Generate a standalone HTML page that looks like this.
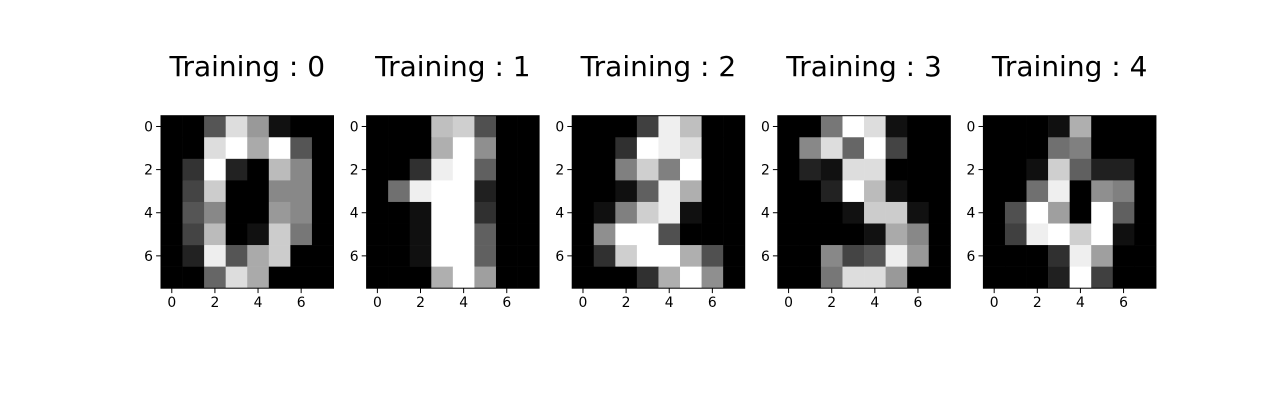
<!DOCTYPE html>
<html><head><meta charset="utf-8">
<style>
html,body{margin:0;padding:0;background:#fff;}
svg{display:block;font-family:"DejaVu Sans","Liberation Sans",sans-serif;}
</style></head>
<body>
<svg id="chart" width="1284" height="400" viewBox="0 0 1284 400"></svg>
<script>
const titles = ["Training : 0","Training : 1","Training : 2","Training : 3","Training : 4"];
const digit0 = [0,0,5,13,9,1,0,0, 0,0,13,15,10,15,5,0, 0,3,15,2,0,11,8,0, 0,4,12,0,0,8,8,0, 0,5,8,0,0,9,8,0, 0,4,11,0,1,12,7,0, 0,2,14,5,10,12,0,0, 0,0,6,13,10,0,0,0];
const digit1 = [0,0,0,12,13,5,0,0, 0,0,0,11,16,9,0,0, 0,0,3,15,16,6,0,0, 0,7,15,16,16,2,0,0, 0,0,1,16,16,3,0,0, 0,0,1,16,16,6,0,0, 0,0,1,16,16,6,0,0, 0,0,0,11,16,10,0,0];
const digit2 = [0,0,0,4,15,12,0,0, 0,0,3,16,15,14,0,0, 0,0,8,13,8,16,0,0, 0,0,1,6,15,11,0,0, 0,1,8,13,15,1,0,0, 0,9,16,16,5,0,0,0, 0,3,13,16,16,11,5,0, 0,0,0,3,11,16,9,0];
const digit3 = [0,0,7,15,13,1,0,0, 0,8,13,6,15,4,0,0, 0,2,1,13,13,0,0,0, 0,0,2,15,11,1,0,0, 0,0,0,1,12,12,1,0, 0,0,0,0,1,10,8,0, 0,0,8,4,5,14,9,0, 0,0,7,13,13,9,0,0];
const digit4 = [0,0,0,1,11,0,0,0, 0,0,0,7,8,0,0,0, 0,0,1,13,6,2,2,0, 0,0,7,15,0,9,8,0, 0,5,16,10,0,16,6,0, 0,4,15,16,13,16,1,0, 0,0,0,3,15,10,0,0, 0,0,0,2,16,4,0,0];
const images = [digit0,digit1,digit2,digit3,digit4];
const ticks = [0,2,4,6];

const NS="http://www.w3.org/2000/svg";
const svg=document.getElementById('chart');
function mk(tag,attrs,parent){const e=document.createElementNS(NS,tag);for(const k in attrs)e.setAttribute(k,attrs[k]);(parent||svg).appendChild(e);return e;}
const AX0=161, STEP=205.6, TOP=115.7, SIZE=172.5;
images.forEach((img,k)=>{
  const left=AX0+k*STEP;
  const sx=v=>left+(v+0.5)/8*SIZE;
  const sy=v=>TOP+(v+0.5)/8*SIZE;
  const g=mk('g',{});
  
  
  const mx=Math.max(...img), mn=Math.min(...img);
  img.forEach((v,i)=>{
    const r=Math.floor(i/8), c=i%8;
    const gv=Math.round((v-mn)/(mx-mn)*255);
    const x0=sx(c-0.5), y0=sy(r-0.5);
    const cell=mk('rect',{x:x0,y:y0,width:sx(c+0.5)-x0+0.3,height:sy(r+0.5)-y0+0.3,fill:`rgb(${gv},${gv},${gv})`},g);
    
    
  });
  const fr=mk('rect',{x:left,y:TOP,width:SIZE,height:SIZE,fill:'none',stroke:'#000','stroke-width':1},g);
  
  
  ticks.forEach(t=>{
    mk('line',{x1:sx(t),x2:sx(t),y1:TOP+SIZE,y2:TOP+SIZE+4.9,stroke:'#000','stroke-width':1},g);
    const xl=mk('text',{x:sx(t),y:TOP+SIZE+19,'font-size':13.9,'text-anchor':'middle',fill:'#000'},g);
    xl.textContent=t;
    
    
    mk('line',{x1:left-4.9,x2:left,y1:sy(t),y2:sy(t),stroke:'#000','stroke-width':1},g);
    const yl=mk('text',{x:left-8,y:sy(t)+5,'font-size':13.9,'text-anchor':'end',fill:'#000'},g);
    yl.textContent=t;
    
    
  });
  const tt=mk('text',{x:left+SIZE/2,y:76,'font-size':28,'text-anchor':'middle',fill:'#000'},g);
  tt.textContent=titles[k];
  
  
});
</script>
</body></html>
